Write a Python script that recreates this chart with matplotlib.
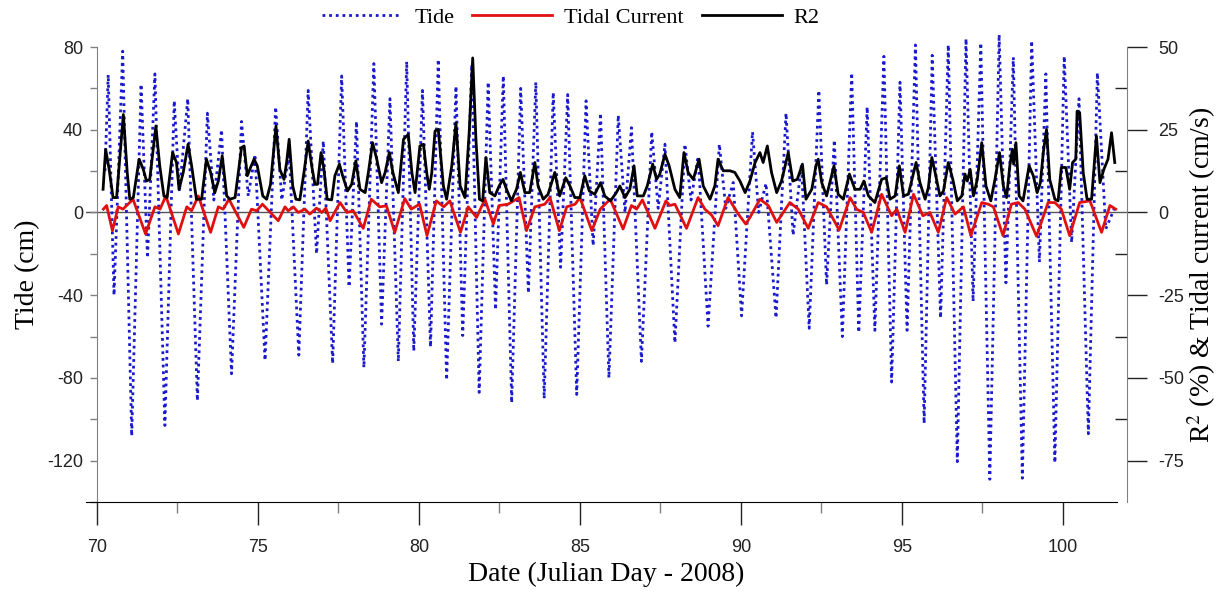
import matplotlib
matplotlib.use("Agg")
import matplotlib.pyplot as plt
from matplotlib.ticker import MultipleLocator, FixedLocator

plt.rcParams["mathtext.fontset"] = "stix"
plt.rcParams["axes.unicode_minus"] = False

# Tide (cm): highs and lows
tide_day = [70.25, 70.35, 70.53, 70.80, 71.08, 71.37, 71.57, 71.80, 72.11, 72.40,
            72.56, 72.82, 73.12, 73.43, 73.63, 73.87, 74.18, 74.49, 74.70, 74.91,
            75.22, 75.55, 75.74, 75.97, 76.27, 76.56, 76.82, 77.03, 77.32, 77.60,
            77.83, 78.06, 78.29, 78.60, 78.84, 79.10, 79.36, 79.62, 79.84, 80.11,
            80.36, 80.60, 80.86, 81.15, 81.36, 81.64, 81.87, 82.15, 82.38, 82.62,
            82.88, 83.16, 83.40, 83.63, 83.89, 84.17, 84.40, 84.62, 84.90, 85.19,
            85.41, 85.64, 85.90, 86.19, 86.40, 86.60, 86.91, 87.23, 87.43, 87.64,
            87.95, 88.26, 88.45, 88.67, 88.98, 89.33, 89.53, 89.76, 90.02, 90.36,
            90.55, 90.78, 91.09, 91.40, 91.62, 91.88, 92.12, 92.42, 92.66, 92.90,
            93.15, 93.44, 93.66, 93.92, 94.16, 94.44, 94.68, 94.94, 95.16, 95.42,
            95.69, 95.94, 96.20, 96.44, 96.72, 96.99, 97.21, 97.45, 97.73, 98.02,
            98.23, 98.46, 98.74, 99.03, 99.27, 99.47, 99.75, 100.04, 100.27, 100.50,
            100.79, 101.07, 101.33, 101.60]
tide_cm = [20, 66.6, -40, 78, -108, 62, -22, 67, -103, 54,
           10, 55, -91, 48, 6, 40, -78, 44, 8, 28,
           -71.5, 51, 6, 29, -69, 59, -20, 34.5, -73, 66,
           -36, 44, -75, 72, -54, 55, -72, 73, -67, 59,
           -65, 74, -81, 61, -59.5, 71.5, -87, 63, -47, 66,
           -92, 60, -39, 63, -90, 58, -26.5, 57, -88, 54,
           -16, 48, -80, 47, 0, 41, -72, 39, 2, 33,
           -63, 33, 6, 27, -55, 33, 2, 14.5, -50, 39,
           0, 14, -51, 48, -11, 23, -56, 59, -35, 35,
           -60, 67.5, -58, 51, -57, 75.5, -82, 63, -57, 81,
           -102, 76, -51, 81, -120.5, 84, -43, 82, -129, 86,
           -34, 75, -128.5, 83, -24, 67, -121, 75.5, -14.5, 55,
           -107, 67.5, -8, 2]

# Tidal current (cm/s), right axis
cur_day = [70.20, 70.30, 70.48, 70.66, 70.81, 71.12, 71.51, 71.80, 71.96, 72.14,
           72.53, 72.79, 72.94, 73.15, 73.53, 73.77, 73.92, 74.10, 74.56, 74.80,
           74.96, 75.14, 75.63, 75.84, 75.94, 76.10, 76.25, 76.46, 76.61, 76.82,
           76.98, 77.11, 77.24, 77.55, 77.76, 77.96, 78.27, 78.52, 78.78, 78.99,
           79.25, 79.56, 79.76, 80.02, 80.25, 80.54, 80.77, 80.96, 81.29, 81.53,
           81.79, 82.05, 82.31, 82.49, 82.77, 83.11, 83.34, 83.60, 83.91, 84.07,
           84.36, 84.59, 84.85, 85.00, 85.37, 85.63, 85.94, 86.34, 86.60, 86.76,
           86.94, 87.33, 87.67, 87.79, 87.95, 88.31, 88.67, 88.88, 89.09, 89.29,
           89.60, 89.92, 90.15, 90.28, 90.59, 90.85, 91.11, 91.52, 91.78, 92.09,
           92.40, 92.66, 93.05, 93.39, 93.59, 93.80, 94.06, 94.37, 94.68, 94.84,
           95.10, 95.36, 95.65, 95.87, 96.13, 96.39, 96.65, 96.91, 97.14, 97.48,
           97.68, 97.84, 98.14, 98.40, 98.61, 98.82, 99.18, 99.54, 99.75, 99.95,
           100.21, 100.52, 100.84, 101.20, 101.46, 101.64]
cur_cms = [1.0, 2.1, -5.5, 1.7, 1.0, 4.0, -6.5, 1.7, 1.0, 5.0,
           -6.5, 1.7, 0.5, 5.0, -6.0, 1.7, 1.0, 4.0, -4.5, 1.0,
           0.5, 2.5, -2.5, 1.7, 0.5, 1.7, 0.0, 1.0, -0.5, 1.3,
           0.0, 1.3, -2.5, 3.0, 0.0, 0.5, -4.8, 4.0, 1.7, 2.0,
           -6.0, 4.2, 1.0, 2.5, -7.0, 3.5, 1.7, 3.5, -6.0, 1.7,
           -1.5, 4.0, -3.5, 2.1, 2.5, 4.5, -5.5, 1.7, 2.5, 4.5,
           -5.5, 1.7, 2.5, 4.5, -5.5, 1.0, 4.0, -5.0, 2.1, 1.0,
           3.8, -4.8, 3.5, 2.1, 2.5, -4.8, 4.5, 1.0, -0.8, -4.0,
           4.5, -0.5, -3.5, -1.5, 4.0, 2.1, -3.0, 3.0, 1.0, -4.8,
           3.0, 1.7, -5.3, 4.5, 1.0, 0.0, -6.0, 5.5, -1.0, 1.0,
           -6.0, 5.5, -1.0, 0.0, -6.0, 4.5, -0.5, 1.7, -7.0, 3.0,
           2.5, 1.7, -7.0, 2.5, 3.0, 1.0, -7.2, 3.0, 3.0, 1.0,
           -7.0, 3.0, 3.5, -6.0, 2.1, 1.0]

# R2 (%), right axis
r2_day = [70.19, 70.27, 70.38, 70.50, 70.61, 70.82, 70.94, 71.02, 71.13, 71.31,
          71.44, 71.54, 71.64, 71.83, 71.95, 72.08, 72.18, 72.35, 72.47, 72.55,
          72.68, 72.83, 72.94, 73.09, 73.25, 73.40, 73.53, 73.66, 73.77, 73.89,
          74.03, 74.13, 74.29, 74.49, 74.57, 74.67, 74.77, 74.88, 74.98, 75.15,
          75.27, 75.39, 75.56, 75.68, 75.81, 75.89, 75.97, 76.08, 76.18, 76.30,
          76.43, 76.56, 76.67, 76.77, 76.85, 76.96, 77.05, 77.15, 77.29, 77.39,
          77.53, 77.63, 77.78, 77.91, 78.04, 78.17, 78.33, 78.43, 78.56, 78.69,
          78.84, 78.95, 79.08, 79.19, 79.36, 79.52, 79.67, 79.78, 79.88, 80.03,
          80.14, 80.24, 80.32, 80.40, 80.50, 80.60, 80.76, 80.86, 81.02, 81.15,
          81.28, 81.43, 81.56, 81.67, 81.77, 81.88, 81.98, 82.08, 82.20, 82.36,
          82.49, 82.61, 82.72, 82.87, 83.03, 83.15, 83.29, 83.44, 83.60, 83.70,
          83.86, 84.01, 84.22, 84.37, 84.56, 84.69, 84.84, 85.00, 85.15, 85.29,
          85.46, 85.64, 85.77, 85.95, 86.13, 86.24, 86.40, 86.55, 86.68, 86.78,
          86.97, 87.09, 87.26, 87.38, 87.48, 87.64, 87.77, 87.95, 88.10, 88.23,
          88.36, 88.52, 88.70, 88.83, 89.04, 89.19, 89.29, 89.45, 89.66, 89.81,
          89.97, 90.13, 90.28, 90.44, 90.59, 90.69, 90.82, 90.95, 91.11, 91.26,
          91.47, 91.61, 91.75, 91.91, 92.02, 92.20, 92.33, 92.40, 92.51, 92.66,
          92.89, 93.02, 93.18, 93.37, 93.54, 93.70, 93.82, 93.96, 94.16, 94.37,
          94.51, 94.63, 94.79, 94.92, 95.05, 95.20, 95.44, 95.56, 95.72, 95.82,
          95.93, 96.03, 96.18, 96.29, 96.44, 96.58, 96.72, 96.86, 96.96, 97.03,
          97.12, 97.22, 97.34, 97.48, 97.61, 97.76, 97.89, 98.03, 98.15, 98.25,
          98.35, 98.43, 98.47, 98.54, 98.64, 98.76, 98.95, 99.08, 99.20, 99.30,
          99.39, 99.49, 99.59, 99.75, 99.85, 99.95, 100.09, 100.21, 100.30, 100.40,
          100.44, 100.52, 100.63, 100.75, 100.89, 101.04, 101.15, 101.27, 101.40, 101.51,
          101.61]
r2_pct = [7.0, 19.1, 13.0, 4.5, 4.5, 29.6, 12.1, 4.0, 4.5, 16.1,
          13.0, 9.5, 10.0, 26.1, 14.1, 5.0, 4.5, 18.1, 15.1, 7.0,
          12.1, 20.6, 14.1, 4.0, 4.0, 16.1, 12.1, 6.0, 9.5, 17.1,
          5.0, 4.0, 4.5, 19.6, 20.1, 11.1, 13.6, 16.1, 14.1, 5.0,
          4.0, 8.5, 26.1, 13.0, 10.0, 15.1, 22.1, 8.0, 4.0, 3.8,
          12.1, 21.6, 14.1, 8.5, 8.5, 18.1, 13.0, 4.0, 3.8, 11.1,
          14.6, 11.1, 6.5, 8.5, 15.6, 7.0, 6.0, 12.1, 21.1, 16.1,
          9.0, 12.1, 18.1, 12.1, 6.0, 22.1, 23.6, 12.1, 6.0, 20.1,
          20.6, 12.1, 7.0, 12.1, 24.6, 25.1, 8.0, 4.0, 14.1, 27.1,
          8.0, 4.5, 24.1, 46.7, 22.1, 4.0, 3.5, 16.6, 6.0, 5.0,
          8.0, 10.0, 7.0, 3.5, 7.0, 12.1, 6.0, 6.0, 15.1, 8.0,
          4.0, 5.5, 12.1, 5.0, 10.5, 8.0, 4.5, 4.5, 11.1, 6.5,
          5.5, 9.0, 5.0, 3.5, 6.0, 8.0, 4.5, 7.0, 14.1, 5.0,
          5.0, 8.0, 14.6, 10.0, 11.6, 17.6, 14.1, 7.0, 4.5, 18.1,
          12.1, 10.0, 16.1, 8.0, 4.0, 8.0, 16.1, 12.6, 12.6, 12.1,
          9.5, 6.0, 9.5, 15.1, 18.1, 15.1, 20.1, 12.1, 6.0, 9.5,
          18.1, 9.5, 10.0, 14.6, 4.0, 7.0, 14.1, 16.1, 9.0, 5.0,
          14.1, 5.5, 4.0, 11.6, 7.0, 7.0, 9.5, 5.0, 3.0, 10.0,
          10.5, 4.0, 5.0, 14.1, 5.0, 5.5, 15.1, 9.0, 4.0, 7.5,
          16.6, 12.1, 5.0, 6.5, 15.1, 10.0, 3.5, 5.0, 11.6, 9.5,
          13.0, 5.0, 10.0, 21.1, 8.0, 3.5, 10.0, 18.1, 8.0, 4.5,
          14.1, 19.1, 14.6, 21.1, 5.0, 3.5, 14.1, 11.1, 6.0, 9.0,
          18.1, 25.1, 10.0, 4.0, 3.5, 13.6, 13.6, 7.0, 15.1, 16.1,
          30.6, 30.1, 12.1, 4.0, 4.0, 23.1, 9.0, 13.0, 16.1, 24.1,
          15.1]

serif = "Liberation Serif"
sans = "Liberation Sans"
grey = "#808080"

fig = plt.figure(figsize=(12.25, 5.92), dpi=100)
ax = fig.add_axes([0.0702, 0.152, 0.8498, 0.7686])
ax2 = ax.twinx()

ax.axhline(0, color="#555555", lw=1, zorder=1)
l_tide, = ax.plot(tide_day, tide_cm, color="#1a1acc", lw=2, ls=(0, (1, 1.4)),
                  clip_on=False, zorder=2)
l_cur, = ax2.plot(cur_day, cur_cms, color="#e01010", lw=2, zorder=3)
l_r2, = ax2.plot(r2_day, r2_pct, color="black", lw=2, zorder=4)

ax.set_xlim(69.66, 101.99)
ax.set_ylim(-140, 80)
ax2.set_ylim(-87.5, 50)

# spines like the original (Grapher style)
ax.spines["top"].set_visible(False)
ax.spines["right"].set_visible(False)
ax.spines["left"].set_position(("data", 70))
ax.spines["left"].set_color(grey)
ax.spines["bottom"].set_bounds(69.66, 101.68)
for s in ["top", "left", "bottom"]:
    ax2.spines[s].set_visible(False)
ax2.spines["right"].set_color(grey)

# x ticks
ax.xaxis.set_major_locator(MultipleLocator(5))
ax.xaxis.set_minor_locator(FixedLocator([72.5, 77.5, 82.5, 87.5, 92.5, 97.5]))
ax.tick_params(axis="x", which="major", direction="out", length=16.5, width=1,
               color="#222222", pad=10, labelsize=13, labelcolor="#222222")
ax.tick_params(axis="x", which="minor", direction="out", length=8, width=1, color=grey)

# left y ticks
ax.yaxis.set_major_locator(FixedLocator([-120, -80, -40, 0, 40, 80]))
ax.yaxis.set_minor_locator(FixedLocator([-140, -100, -60, -20, 20, 60]))
ax.tick_params(axis="y", which="both", direction="out", length=5, width=1, color=grey)
ax.tick_params(axis="y", which="major", pad=5, labelsize=13, labelcolor="#222222")

# right y ticks
ax2.yaxis.set_major_locator(MultipleLocator(25))
ax2.yaxis.set_minor_locator(FixedLocator([-62.5, -37.5, -12.5, 12.5, 37.5]))
ax2.tick_params(axis="y", which="major", direction="out", length=14.5, width=1,
                color="#222222", pad=8, labelsize=13, labelcolor="#222222")
ax2.tick_params(axis="y", which="minor", direction="in", length=9, width=1, color="#222222")

for lab in ax.get_xticklabels() + ax.get_yticklabels() + ax2.get_yticklabels():
    lab.set_family(sans)

ax.set_xlabel("Date (Julian Day - 2008)", family=serif, fontsize=20, labelpad=4)
ax.set_ylabel("Tide (cm)", family=serif, fontsize=20, labelpad=5)
ax2.set_ylabel("R$^2$ (%) & Tidal current (cm/s)", family=serif, fontsize=20, labelpad=1)

fig.legend([l_tide, l_cur, l_r2], ["Tide", "Tidal Current", "R2"],
           loc="center", bbox_to_anchor=(0.466, 0.97), ncol=3, frameon=False,
           prop={"family": serif, "size": 16}, handlelength=3.6,
           handletextpad=0.55, columnspacing=0.8)

fig.savefig("out.png", dpi=100)
